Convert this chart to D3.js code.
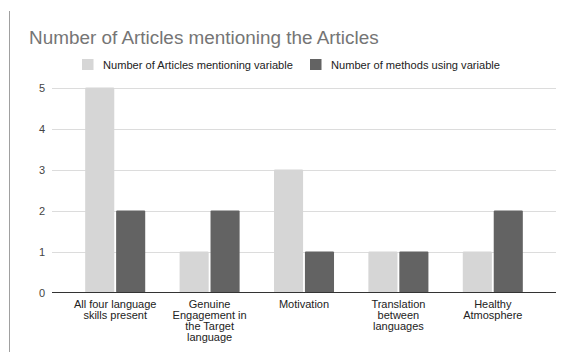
<!DOCTYPE html>
<html>
<head>
<meta charset="utf-8">
<script src="https://cdn.jsdelivr.net/npm/d3@7"></script>
<style>
  html, body { margin: 0; padding: 0; background: #fff; }
  svg { display: block; font-family: "Liberation Sans", Arial, sans-serif; }
</style>
</head>
<body>
<svg id="chart" width="561" height="352"></svg>
<script>
// Chart data
const categories = [
  ["All four language", "skills present"],
  ["Genuine", "Engagement in", "the Target", "language"],
  ["Motivation"],
  ["Translation", "between", "languages"],
  ["Healthy", "Atmosphere"]
];
const seriesNames = ["Number of Articles mentioning variable", "Number of methods using variable"];
const articlesMentioning = [5, 1, 3, 1, 1];
const methodsUsing = [2, 2, 1, 1, 2];
const yTicks = [0, 1, 2, 3, 4, 5];
const colors = ["#d6d6d6", "#636363"];

const svg = d3.select("#chart");

// left page border
svg.append("line")
  .attr("x1", 9.5).attr("x2", 9.5).attr("y1", 11).attr("y2", 352)
  .attr("stroke", "#a0a0a0").attr("stroke-width", 1);

// title
svg.append("text")
  .attr("x", 29).attr("y", 44)
  .attr("font-size", 18.9).attr("fill", "#757575")
  .text("Number of Articles mentioning the Articles");

// legend
const legendItems = [
  { name: seriesNames[0], color: colors[0], x: 82 },
  { name: seriesNames[1], color: colors[1], x: 310 }
];
const lg = svg.append("g").selectAll("g").data(legendItems).join("g")
  .attr("transform", d => `translate(${d.x},59)`);
lg.append("rect").attr("width", 11.5).attr("height", 11).attr("fill", d => d.color);
lg.append("text").attr("x", 21).attr("y", 9.5)
  .attr("font-size", 11.1).attr("fill", "#222").text(d => d.name);

// scales
const plotLeft = 52, plotRight = 556;
const y = d3.scaleLinear().domain([0, 5]).range([292.5, 87.5]);
const x0 = d3.scaleBand().domain(d3.range(categories.length))
  .range([68, 540]).paddingInner(0.364).paddingOuter(0.182);
const x1 = d3.scaleBand().domain([0, 1]).range([0, x0.bandwidth()]).paddingInner(0.06);

// gridlines
svg.append("g").selectAll("line").data(yTicks.filter(t => t > 0)).join("line")
  .attr("x1", plotLeft).attr("x2", plotRight)
  .attr("y1", d => Math.round(y(d)) + 0.5).attr("y2", d => Math.round(y(d)) + 0.5)
  .attr("stroke", "#dcdcdc").attr("stroke-width", 1);

// y tick labels
svg.append("g").selectAll("text").data(yTicks).join("text")
  .attr("x", 45).attr("y", d => y(d) + 4)
  .attr("text-anchor", "end").attr("font-size", 11).attr("fill", "#444")
  .text(d => d);

// bars
const rows = categories.map((c, i) => [articlesMentioning[i], methodsUsing[i]]);
const groups = svg.append("g").selectAll("g").data(rows).join("g")
  .attr("transform", (d, i) => `translate(${x0(i)},0)`);
groups.selectAll("rect").data(d => d.map((v, s) => ({ v, s }))).join("rect")
  .attr("x", d => x1(d.s))
  .attr("y", d => y(d.v))
  .attr("width", x1.bandwidth())
  .attr("height", d => y(0) - y(d.v))
  .attr("rx", 1)
  .attr("fill", d => colors[d.s]);

// baseline
svg.append("line")
  .attr("x1", plotLeft).attr("x2", plotRight)
  .attr("y1", 292.5).attr("y2", 292.5)
  .attr("stroke", "#333").attr("stroke-width", 1);

// x category labels
const xl = svg.append("g").selectAll("text").data(categories).join("text")
  .attr("x", (d, i) => x0(i) + x0.bandwidth() / 2)
  .attr("y", 308)
  .attr("text-anchor", "middle").attr("font-size", 11).attr("fill", "#222");
xl.selectAll("tspan").data(d => d).join("tspan")
  .attr("x", function() { return this.parentNode.getAttribute("x"); })
  .attr("dy", (d, i) => i === 0 ? 0 : 11)
  .text(d => d);
</script>
</body>
</html>
